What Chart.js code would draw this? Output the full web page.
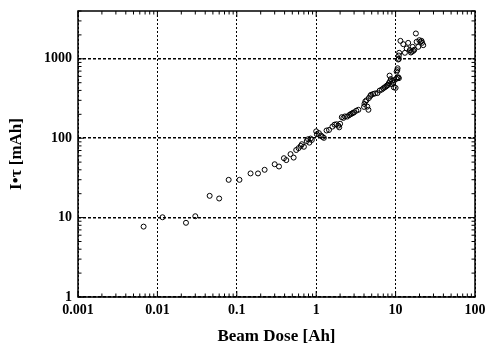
<!DOCTYPE html>
<html>
<head>
<meta charset="utf-8">
<script src="https://cdn.jsdelivr.net/npm/chart.js@4/dist/chart.umd.min.js"></script>
<style>
  html, body { margin: 0; padding: 0; background: #fff; }
  #wrap { width: 487px; height: 349px; }
</style>
</head>
<body>
<div id="wrap"><canvas id="doseChart"></canvas></div>
<script>
// beam dose [Ah] vs I*tau [mAh]
const doseAh = [
  0.0067, 0.0116, 0.0229, 0.030, 0.0455, 0.060, 0.079, 0.108, 0.149, 0.185,
  0.224, 0.300, 0.340, 0.392, 0.420, 0.475, 0.520, 0.560, 0.600, 0.640,
  0.660, 0.700, 0.760, 0.790, 0.820, 0.850, 0.880, 1.00, 1.02, 1.08,
  1.15, 1.20, 1.25, 1.35, 1.45, 1.60, 1.70, 1.80, 1.90, 1.95,
  2.00, 2.10, 2.20, 2.30, 2.45, 2.60, 2.70, 2.80, 2.90, 3.00,
  3.20, 3.40, 4.00, 4.05, 4.15, 4.30, 4.40, 4.55, 4.60, 4.80,
  4.90, 5.20, 5.50, 5.90, 6.30, 6.70, 7.00, 7.30, 7.60, 7.80,
  8.00, 8.20, 8.40, 8.50, 8.70, 8.90, 9.10, 9.30, 9.50, 9.70,
  10.0, 10.2, 10.5, 10.8, 11.0, 10.3, 10.5, 10.6, 10.8, 11.0,
  11.0, 11.1, 11.5, 12.5, 13.1, 13.8, 14.4, 15.1, 15.6, 16.0,
  16.4, 16.7, 17.2, 18.0, 18.4, 19.3, 19.9, 20.6, 21.2, 21.6,
  22.3
];
const itauMAh = [
  7.7, 10.1, 8.6, 10.4, 18.8, 17.4, 29.9, 29.9, 36, 36,
  40, 47, 44, 56, 53, 63, 57, 71, 75, 80,
  84, 78, 92, 97, 88, 99, 95, 122, 112, 116,
  108, 104, 101, 125, 127, 140, 148, 150, 144, 137,
  152, 184, 180, 188, 187, 195, 200, 204, 208, 212,
  222, 228, 248, 270, 290, 300, 250, 228, 320, 340,
  352, 360, 366, 370, 398, 410, 425, 437, 450, 460,
  470, 492, 614, 520, 555, 480, 530, 500, 437, 540,
  430, 560, 580, 585, 570, 690, 720, 760, 980, 1000,
  1100, 1190, 1683, 1528, 1190, 1349, 1587, 1285, 1200, 1230,
  1415, 1260, 1300, 2084, 1636, 1414, 1717, 1640, 1683, 1590,
  1485
];
const xDecades = [0.001, 0.01, 0.1, 1, 10, 100];
const yDecades = [1, 10, 100, 1000];

const serif = "'Liberation Serif', 'Times New Roman', serif";

// minor ticks on all four sides plus the solid frame
const frameTicks = {
  id: "frameTicks",
  afterDraw(chart) {
    const ctx = chart.ctx;
    const area = chart.chartArea;
    const xs = chart.scales.x;
    const ys = chart.scales.y;
    ctx.save();
    ctx.strokeStyle = "#000";
    ctx.lineWidth = 1;
    ctx.beginPath();
    for (let d = -3; d < 2; d++) {
      for (let k = 1; k < 10; k++) {
        const v = k * Math.pow(10, d);
        const px = xs.getPixelForValue(v);
        const len = k === 1 ? 6 : 3.5;
        ctx.moveTo(px, area.bottom);
        ctx.lineTo(px, area.bottom - len);
        ctx.moveTo(px, area.top);
        ctx.lineTo(px, area.top + len);
      }
    }
    for (let d = 0; d < 4; d++) {
      for (let k = 1; k < 10; k++) {
        const v = k * Math.pow(10, d);
        if (v > ys.max) continue;
        const py = ys.getPixelForValue(v);
        const len = k === 1 ? 6 : 3.5;
        ctx.moveTo(area.left, py);
        ctx.lineTo(area.left + len, py);
        ctx.moveTo(area.right, py);
        ctx.lineTo(area.right - len, py);
      }
    }
    ctx.stroke();
    ctx.lineWidth = 1.5;
    ctx.strokeRect(area.left, area.top, area.right - area.left, area.bottom - area.top);
    ctx.restore();
  }
};

new Chart(document.getElementById("doseChart"), {
  type: "scatter",
  data: {
    datasets: [
      {
        label: "I*tau",
        data: doseAh.map((x, i) => ({ x: x, y: itauMAh[i] })),
        pointStyle: "circle",
        pointRadius: 2.5,
        pointBorderWidth: 1,
        pointBorderColor: "#000",
        pointBackgroundColor: "rgba(0,0,0,0)"
      }
    ]
  },
  options: {
    responsive: true,
    maintainAspectRatio: false,
    animation: false,
    layout: { padding: { left: 0, top: 11, right: 12, bottom: 0 } },
    plugins: { legend: { display: false }, tooltip: { enabled: false } },
    scales: {
      x: {
        type: "logarithmic",
        min: 0.001,
        max: 100,
        afterBuildTicks: (s) => { s.ticks = xDecades.map((v) => ({ value: v })); },
        afterFit: (s) => {
          s.height = 52;
          s.paddingLeft = 0;
          s.paddingRight = 0;
        },
        grid: { color: "#000", lineWidth: 1, drawTicks: false },
        border: { display: false, dash: [2, 2] },
        ticks: {
          color: "#000",
          padding: 5,
          maxRotation: 0,
          autoSkip: false,
          font: { family: serif, size: 14, weight: "bold" },
          callback: (v) => String(v)
        },
        title: {
          display: true,
          text: "Beam Dose [Ah]",
          color: "#000",
          padding: { top: 0, bottom: 2 },
          font: { family: serif, size: 17, weight: "bold" }
        }
      },
      y: {
        type: "logarithmic",
        min: 1,
        max: 4000,
        afterBuildTicks: (s) => { s.ticks = yDecades.map((v) => ({ value: v })); },
        afterFit: (s) => {
          s.width = 78;
          s.paddingTop = 0;
          s.paddingBottom = 0;
        },
        grid: { color: "#000", lineWidth: 1.5, drawTicks: false },
        border: { display: false, dash: [3, 2] },
        ticks: {
          color: "#000",
          padding: 6,
          autoSkip: false,
          font: { family: serif, size: 14, weight: "bold" },
          callback: (v) => String(v)
        },
        title: {
          display: true,
          text: "I\u2022\u03c4 [mAh]",
          color: "#000",
          padding: { top: 6, bottom: 0 },
          font: { family: serif, size: 17, weight: "bold" }
        }
      }
    }
  },
  plugins: [frameTicks]
});
</script>
</body>
</html>
